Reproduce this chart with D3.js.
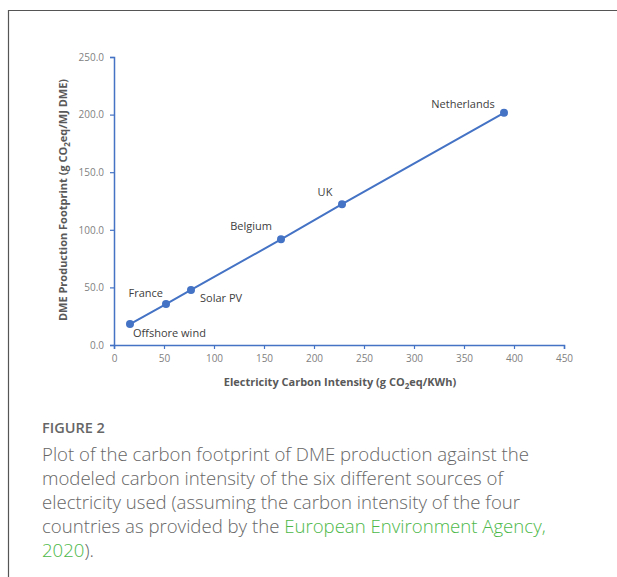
<!DOCTYPE html>
<html lang="en">
<head>
	<meta charset="utf-8">
	<title>DME footprint</title>
	<script src="https://cdn.jsdelivr.net/npm/d3@7"></script>
	<style>
		body { margin: 0; background: #fff; }
		svg text { font-family: "Open Sans", "Liberation Sans", sans-serif; }
	</style>
</head>
<body>
	<script>
		var w = 617;
		var h = 577;

		// data
		var sources = ["Offshore wind", "France", "Solar PV", "Belgium", "UK", "Netherlands"];
		var intensity = [16, 52, 77, 167, 228, 390];
		var footprint = [18.2, 35.5, 47.8, 91.7, 122.2, 201.6];
		var xTicks = [0, 50, 100, 150, 200, 250, 300, 350, 400, 450];
		var yTicks = [0, 50, 100, 150, 200, 250];

		// label offsets relative to each point (dx, dy, anchor)
		var labelPos = [[3, 13, "start"], [-3, -7, "end"], [9, 12, "start"], [-30, -9, "middle"], [-17, -8, "middle"], [-41, -5, "middle"]];

		var points = sources.map(function(s, i) {
			return { name: s, x: intensity[i], y: footprint[i], lp: labelPos[i] };
		});

		var svg = d3.select("body").append("svg")
			.attr("width", w).attr("height", h);

		// frame of the figure panel
		svg.append("path")
			.attr("d", "M8.5," + h + "V10.5H" + w)
			.attr("fill", "none").attr("stroke", "#555").attr("stroke-width", 1.2);

		var x = d3.scaleLinear().domain([0, 450]).range([114, 564]);
		var y = d3.scaleLinear().domain([0, 250]).range([345, 57]);
		var axisColor = "#4472c4";

		var gx = svg.append("g")
			.attr("transform", "translate(0," + y(0) + ")")
			.call(d3.axisBottom(x).tickValues(xTicks).tickSizeOuter(0).tickSize(4).tickPadding(6));
		var gy = svg.append("g")
			.attr("transform", "translate(" + x(0) + ",0)")
			.call(d3.axisLeft(y).tickValues(yTicks).tickFormat(d3.format(".1f")).tickSizeOuter(0).tickSize(4).tickPadding(6));

		[gx, gy].forEach(function(g) {
			g.select(".domain").attr("stroke", axisColor).attr("stroke-width", 1.5);
			g.selectAll(".tick line").attr("stroke", axisColor).attr("stroke-width", 1.2);
			g.selectAll(".tick text").attr("fill", "#7f7f7f")
				.style("font-family", "'Open Sans', sans-serif").style("font-size", "10px");
		});

		// axis titles
		var xt = svg.append("text")
			.attr("x", 340).attr("y", 386)
			.attr("text-anchor", "middle")
			.attr("font-size", 11).attr("font-weight", "bold").attr("fill", "#595959");
		xt.append("tspan").text("Electricity Carbon Intensity (g CO");
		xt.append("tspan").attr("font-size", 8).attr("dy", 3).text("2");
		xt.append("tspan").attr("dy", -3).text("eq/KWh)");

		var yt = svg.append("text")
			.attr("transform", "translate(67,200) rotate(-90)")
			.attr("text-anchor", "middle")
			.attr("font-size", 11).attr("font-weight", "bold").attr("fill", "#595959");
		yt.append("tspan").text("DME Production Footprint (g CO");
		yt.append("tspan").attr("font-size", 8).attr("dy", 3).text("2");
		yt.append("tspan").attr("dy", -3).text("eq/MJ DME)");

		// series line and markers
		var line = d3.line().x(function(d) { return x(d.x); }).y(function(d) { return y(d.y); });
		svg.append("path").datum(points)
			.attr("d", line)
			.attr("fill", "none").attr("stroke", axisColor).attr("stroke-width", 2);

		svg.selectAll("circle.pt").data(points).enter()
			.append("circle").attr("class", "pt")
			.attr("cx", function(d) { return x(d.x); })
			.attr("cy", function(d) { return y(d.y); })
			.attr("r", 4)
			.attr("fill", axisColor);

		svg.selectAll("text.lbl").data(points).enter()
			.append("text").attr("class", "lbl")
			.attr("x", function(d) { return x(d.x) + d.lp[0]; })
			.attr("y", function(d) { return y(d.y) + d.lp[1]; })
			.attr("text-anchor", function(d) { return d.lp[2]; })
			.attr("font-size", 11).attr("fill", "#404040")
			.text(function(d) { return d.name; });

		// caption
		svg.append("text")
			.attr("x", 42).attr("y", 433)
			.attr("font-size", 14.5).attr("font-weight", 600).attr("fill", "#666")
			.text("FIGURE 2");

		var caption = [
			[["Plot of the carbon footprint of DME production against the", "#666"]],
			[["modeled carbon intensity of the six different sources of", "#666"]],
			[["electricity used (assuming the carbon intensity of the four", "#666"]],
			[["countries as provided by the ", "#666"], ["European Environment Agency,", "#4cb848"]],
			[["2020", "#4cb848"], [").", "#666"]]
		];
		caption.forEach(function(parts, i) {
			var t = svg.append("text")
				.attr("x", 42).attr("y", 461 + i * 24)
				.attr("font-size", 18.6).attr("font-weight", 300);
			parts.forEach(function(p) {
				t.append("tspan").attr("fill", p[1]).text(p[0]);
			});
		});
	</script>
</body>
</html>
